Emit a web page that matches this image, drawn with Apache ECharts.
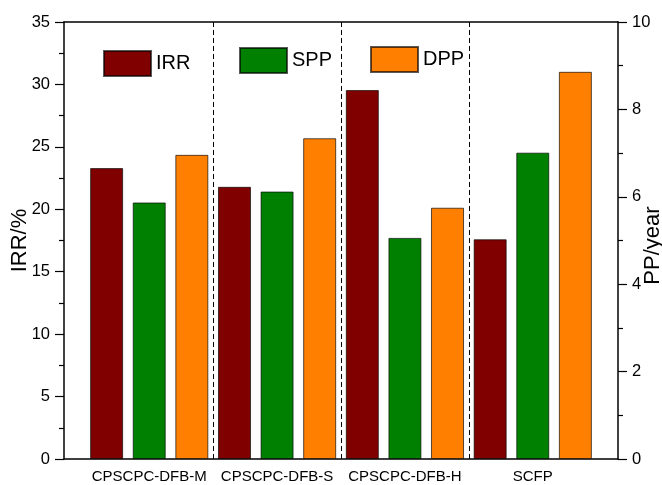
<!DOCTYPE html>
<html>
<head>
<meta charset="utf-8">
<script src="https://cdn.jsdelivr.net/npm/echarts@6/dist/echarts.min.js"></script>
<style>html,body{margin:0;padding:0;background:#fff;}#main{width:662px;height:485px;}</style>
</head>
<body>
<div id="main"></div>
<script>
// ---- data ----
const categories = ['CPSCPC-DFB-M', 'CPSCPC-DFB-S', 'CPSCPC-DFB-H', 'SCFP'];
const irr = [23.3, 21.8, 29.55, 17.6];     // IRR, %  (left axis)
const spp = [5.87, 6.12, 5.06, 7.01];      // SPP, year (right axis)
const dpp = [6.96, 7.34, 5.75, 8.86];      // DPP, year (right axis)
const leftTicks = { min: 0, max: 35, interval: 5 };
const rightTicks = { min: 0, max: 10, interval: 2 };
// separators sit between categories
const separators = categories.slice(1).map((c, i) => i + 1);

// ---- layout ----
const FONT = 'Arial, "Liberation Sans", sans-serif';
const frame = { left: 64, right: 44, top: 22, bottom: 26 };
const plotW = 662 - frame.left - frame.right;
const pitch = plotW / (categories.length * 3 + 1);
const pad = pitch / 2;
const barW = 33;

const chart = echarts.init(document.getElementById('main'), null, { renderer: 'canvas' });

const yCommon = {
  type: 'value',
  gridIndex: 0,
  offset: pad,
  splitLine: { show: false },
  axisLine: { show: true, lineStyle: { color: '#000', width: 1.5 } },
  axisTick: { show: true, inside: false, length: 9, lineStyle: { color: '#000', width: 1.2 } },
  minorTick: { show: true, splitNumber: 2, length: 5, lineStyle: { color: '#000', width: 1.2 } },
  axisLabel: { color: '#000', fontSize: 16.5, fontFamily: FONT, margin: 14 },
  nameLocation: 'middle',
  nameRotate: 90,
  nameMoveOverlap: false,
  nameTextStyle: { color: '#000', fontSize: 22, fontFamily: FONT }
};

const barStyle = (color) => ({ color: color, borderColor: 'rgba(0,0,0,0.65)', borderWidth: 1 });

const legendCommon = {
  orient: 'horizontal',
  padding: 0,
  itemWidth: 47,
  itemHeight: 25,
  icon: 'rect',
  textStyle: { color: '#000', fontSize: 20, fontFamily: FONT },
  selectedMode: false
};

chart.setOption({
  animation: false,
  backgroundColor: '#fff',
  textStyle: { fontFamily: FONT },
  legend: [
    Object.assign({}, legendCommon, { data: ['IRR'], left: 103, top: 50 }),
    Object.assign({}, legendCommon, { data: ['SPP'], left: 239, top: 47 }),
    Object.assign({}, legendCommon, { data: ['DPP'], left: 370, top: 46 })
  ],
  grid: [
    { left: frame.left + pad, right: frame.right + pad, top: frame.top, bottom: frame.bottom,
      containLabel: false, outerBoundsMode: 'none' },
    { left: frame.left, right: frame.right, top: frame.top, bottom: frame.bottom,
      containLabel: false, outerBoundsMode: 'none' }
  ],
  xAxis: [
    {
      type: 'category', gridIndex: 0, data: categories,
      axisLine: { show: false }, axisTick: { show: false },
      axisLabel: { color: '#000', fontSize: 15, fontFamily: FONT, margin: 10, interval: 0 },
      splitLine: { show: false }
    },
    {
      type: 'value', gridIndex: 1, position: 'bottom',
      min: -1 / 6, max: categories.length + 1 / 6,
      axisLine: { show: true, onZero: false, lineStyle: { color: '#000', width: 1.5 } },
      axisTick: { show: false }, axisLabel: { show: false }, splitLine: { show: false }
    },
    {
      type: 'value', gridIndex: 1, position: 'top',
      min: -1 / 6, max: categories.length + 1 / 6,
      axisLine: { show: true, onZero: false, lineStyle: { color: '#000', width: 1.5 } },
      axisTick: { show: false }, axisLabel: { show: false }, splitLine: { show: false }
    }
  ],
  yAxis: [
    Object.assign({}, yCommon, { position: 'left', name: 'IRR/%', nameGap: 33,
      min: leftTicks.min, max: leftTicks.max, interval: leftTicks.interval }),
    Object.assign({}, yCommon, { position: 'right', name: 'PP/year', nameGap: 24,
      nameTextStyle: { color: '#000', fontSize: 22, fontFamily: FONT, padding: [0, 10, 0, 0] },
      min: rightTicks.min, max: rightTicks.max, interval: rightTicks.interval }),
    { type: 'value', gridIndex: 1, min: 0, max: 1, show: false }
  ],
  series: [
    { name: 'IRR', type: 'bar', xAxisIndex: 0, yAxisIndex: 0, data: irr,
      barWidth: barW, barGap: ((pitch - barW) / barW * 100).toFixed(1) + '%', itemStyle: barStyle('#800000') },
    { name: 'SPP', type: 'bar', xAxisIndex: 0, yAxisIndex: 1, data: spp,
      barWidth: barW, barGap: ((pitch - barW) / barW * 100).toFixed(1) + '%', itemStyle: barStyle('#008000') },
    { name: 'DPP', type: 'bar', xAxisIndex: 0, yAxisIndex: 1, data: dpp,
      barWidth: barW, barGap: ((pitch - barW) / barW * 100).toFixed(1) + '%', itemStyle: barStyle('#ff8000') },
    { name: 'sep', type: 'line', xAxisIndex: 1, yAxisIndex: 2, data: [], silent: true,
      markLine: {
        silent: true, symbol: ['none', 'none'], label: { show: false },
        lineStyle: { color: '#000', type: [5, 3], width: 1 },
        data: separators.map(v => ({ xAxis: v }))
      }
    }
  ]
});
</script>
</body>
</html>
